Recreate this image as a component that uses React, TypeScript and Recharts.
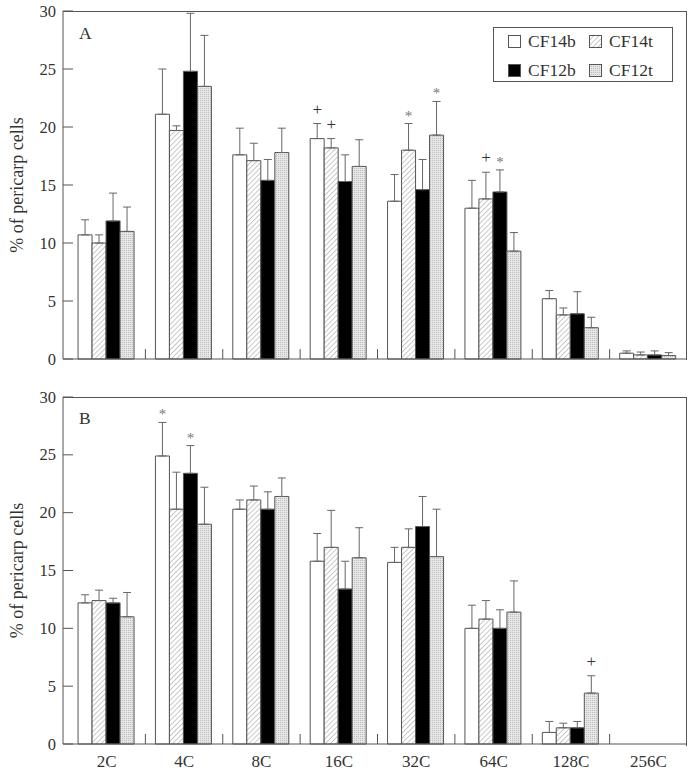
import { BarChart, Bar, XAxis, YAxis, ErrorBar, LabelList, Legend } from 'recharts'

// categories (DNA content classes) and series
const categories = ['2C', '4C', '8C', '16C', '32C', '64C', '128C', '256C']
const seriesNames = ['CF14b', 'CF14t', 'CF12b', 'CF12t']
const yTicks = [0, 5, 10, 15, 20, 25, 30]

// panel A: means and (upper) errors
const aCF14b = [10.7, 21.1, 17.6, 19.0, 13.6, 13.0, 5.2, 0.5]
const aCF14bErr = [1.3, 3.9, 2.3, 1.3, 2.3, 2.4, 0.7, 0.2]
const aCF14t = [10.0, 19.7, 17.1, 18.2, 18.0, 13.8, 3.8, 0.35]
const aCF14tErr = [0.7, 0.4, 1.5, 0.8, 2.3, 2.3, 0.6, 0.25]
const aCF12b = [11.9, 24.8, 15.4, 15.3, 14.6, 14.4, 3.9, 0.35]
const aCF12bErr = [2.4, 5.0, 1.8, 2.3, 2.6, 1.9, 1.9, 0.35]
const aCF12t = [11.0, 23.5, 17.8, 16.6, 19.3, 9.3, 2.7, 0.3]
const aCF12tErr = [2.1, 4.4, 2.1, 2.3, 2.9, 1.6, 0.9, 0.25]

// panel A: significance marks
const aCF14bMark = ['', '', '', '+', '', '', '', '']
const aCF14tMark = ['', '', '', '+', '*', '+', '', '']
const aCF12bMark = ['', '', '', '', '', '*', '', '']
const aCF12tMark = ['', '', '', '', '*', '', '', '']

// panel B
const bCF14b = [12.2, 24.9, 20.3, 15.8, 15.7, 10.0, 1.0, 0]
const bCF14bErr = [0.7, 2.9, 0.8, 2.4, 1.3, 2.0, 0.95, 0]
const bCF14t = [12.4, 20.3, 21.1, 17.0, 17.0, 10.8, 1.4, 0]
const bCF14tErr = [0.9, 3.2, 1.2, 3.2, 1.6, 1.6, 0.4, 0]
const bCF12b = [12.2, 23.4, 20.3, 13.4, 18.8, 10.0, 1.4, 0]
const bCF12bErr = [0.4, 2.4, 1.5, 2.4, 2.6, 1.6, 0.55, 0]
const bCF12t = [11.0, 19.0, 21.4, 16.1, 16.2, 11.4, 4.4, 0]
const bCF12tErr = [2.1, 3.2, 1.6, 2.6, 4.1, 2.7, 1.5, 0]

const bCF14bMark = ['', '*', '', '', '', '', '', '']
const bCF14tMark = ['', '', '', '', '', '', '', '']
const bCF12bMark = ['', '*', '', '', '', '', '', '']
const bCF12tMark = ['', '', '', '', '', '', '+', '']

const FONT = '"Liberation Serif", "DejaVu Serif", serif'
const AXIS = '#555'
const TEXT = '#333'

function buildRows(vals: number[][], errs: number[][], marks: string[][]) {
  return categories.map((cat, i) => {
    const row: any = { cat }
    seriesNames.forEach((s, k) => {
      const v = vals[k][i]
      row[s] = v > 0 ? v : null
      row[s + '_err'] = v > 0 ? [0, errs[k][i]] : null
      row[s + '_mark'] = marks[k][i]
    })
    return row
  })
}

const rowsA = buildRows(
  [aCF14b, aCF14t, aCF12b, aCF12t],
  [aCF14bErr, aCF14tErr, aCF12bErr, aCF12tErr],
  [aCF14bMark, aCF14tMark, aCF12bMark, aCF12tMark],
)
const rowsB = buildRows(
  [bCF14b, bCF14t, bCF12b, bCF12t],
  [bCF14bErr, bCF14tErr, bCF12bErr, bCF12tErr],
  [bCF14bMark, bCF14tMark, bCF12bMark, bCF12tMark],
)

function Patterns({ id }: { id: string }) {
  return (
    <defs>
      <pattern id={`hatch${id}`} width="3.6" height="3.6" patternUnits="userSpaceOnUse" patternTransform="rotate(45)">
        <rect width="3.6" height="3.6" fill="#fff" />
        <line x1="0" y1="0" x2="0" y2="3.6" stroke="#777" strokeWidth="0.8" />
      </pattern>
      <pattern id={`dots${id}`} width="2" height="2" patternUnits="userSpaceOnUse">
        <rect width="2" height="2" fill="#e6e6e6" />
        <rect width="1" height="1" fill="#bdbdbd" />
      </pattern>
    </defs>
  )
}

const fillFor = (s: string, id: string) =>
  s === 'CF14b' ? '#fff' : s === 'CF14t' ? `url(#hatch${id})` : s === 'CF12b' ? '#000' : `url(#dots${id})`

// category tick: label under the centre, short inward tick at the boundary
function CatTick(props: any) {
  const { x, y, payload, index, showLabel } = props
  const half = payload && payload.offset ? payload.offset : 38.7
  const last = index === categories.length - 1
  return (
    <g>
      {!last && <line x1={x + half} x2={x + half} y1={y} y2={y - 10} stroke={AXIS} />}
      {showLabel && (
        <text x={x} y={y} dy={23} textAnchor="middle" style={{ fontFamily: FONT }} fontSize={17} fill={TEXT}>
          {payload.value}
        </text>
      )}
    </g>
  )
}

function ValTick(props: any) {
  const { x, y, payload } = props
  return (
    <g>
      <line x1={x} x2={x + 10} y1={y} y2={y} stroke={AXIS} />
      <text x={x - 7} y={y} dy={5.5} textAnchor="end" style={{ fontFamily: FONT }} fontSize={16.5} fill={TEXT}>
        {payload.value}
      </text>
    </g>
  )
}

function YTitle(props: any) {
  const vb = props.viewBox || { x: 0, y: 0, height: 0 }
  const cx = 17
  const cy = vb.y + vb.height / 2
  return (
    <text x={cx} y={cy} transform={`rotate(-90 ${cx} ${cy})`} textAnchor="middle" dominantBaseline="central"
      style={{ fontFamily: FONT }} fontSize={18} fill={TEXT}>
      % of pericarp cells
    </text>
  )
}

function makeMark(rows: any[], s: string) {
  return (p: any) => {
    const { x, y, width, height, value, index } = p
    if (!value || rows[index] == null) return null
    const v = rows[index][s]
    const e = rows[index][s + '_err'] ? rows[index][s + '_err'][1] : 0
    const top = y - (height / v) * e
    const star = value === '*'
    return (
      <text x={x + width / 2} y={star ? top - 3 : top - 9} textAnchor="middle" style={{ fontFamily: FONT }}
        fontSize={star ? 15 : 17} fill={star ? '#777' : '#333'}>
        {value}
      </text>
    )
  }
}

function Swatch({ s }: { s: string }) {
  return (
    <svg width={13} height={13} style={{ display: 'block' }}>
      <Patterns id="L" />
      <rect x={0.5} y={0.5} width={12} height={12} fill={fillFor(s, 'L')} stroke={AXIS} />
    </svg>
  )
}

function LegendBox() {
  return (
    <div style={{
      border: `1px solid ${AXIS}`, background: '#fff', width: 180, height: 55, boxSizing: 'border-box',
      display: 'grid', gridTemplateColumns: '81px 80px', rowGap: 9, padding: '4px 0 0 14px',
      fontFamily: FONT, fontSize: 17.5, color: TEXT,
    }}>
      {seriesNames.map((s) => (
        <div key={s} style={{ display: 'flex', alignItems: 'center', gap: 7, height: 19 }}>
          <Swatch s={s} />
          <span>{s}</span>
        </div>
      ))}
    </div>
  )
}

function Panel({ rows, id, showLabels, legend, height, margin, xHeight }: any) {
  return (
    <BarChart width={688} height={height} data={rows} margin={margin} barCategoryGap="13%" barGap={0}>
      <Patterns id={id} />
      <XAxis dataKey="cat" height={xHeight} padding={{ left: 5, right: 0 }} axisLine={{ stroke: AXIS }}
        tickLine={false} tickSize={0} tickMargin={0} interval={0}
        tick={(p: any) => <CatTick {...p} showLabel={showLabels} />} />
      <YAxis domain={[0, 30]} ticks={yTicks} width={63} axisLine={{ stroke: AXIS }} tickLine={false}
        tickSize={0} tickMargin={0} tick={<ValTick />} label={<YTitle />} interval={0} />
      {legend && (
        <Legend layout="horizontal" verticalAlign="middle" align="center" content={<LegendBox />}
          wrapperStyle={{ position: 'absolute', left: 493, top: 27, width: 180, height: 55 }} />
      )}
      {seriesNames.map((s) => (
        <Bar key={s} dataKey={s} name={s} fill={fillFor(s, id)} stroke={AXIS} strokeWidth={1}
          isAnimationActive={false}>
          <ErrorBar dataKey={s + '_err'} width={4} stroke="#666" strokeWidth={1} direction="y" />
          <LabelList dataKey={s + '_mark'} content={makeMark(rows, s)} />
        </Bar>
      ))}
    </BarChart>
  )
}

const panelLetter = (top: number): any => ({
  position: 'absolute', left: 79, top, fontFamily: FONT, fontSize: 17.5, color: TEXT, lineHeight: '20px',
})

// top and right edges of each panel's box
const frameEdge = (top: number): any => ({
  position: 'absolute', left: 63, top, width: 624, height: 349, boxSizing: 'border-box',
  borderTop: `1px solid ${AXIS}`, borderRight: `1px solid ${AXIS}`, pointerEvents: 'none',
})

export default function App() {
  return (
    <div style={{ position: 'absolute', left: 0, top: 0, width: 688, height: 773, background: '#fff', overflow: 'hidden' }}>
      <div style={{ position: 'absolute', left: 0, top: 0 }}>
        <Panel rows={rowsA} id="A" showLabels={false} legend height={372}
          margin={{ top: 11, right: 1, bottom: 12, left: 0 }} xHeight={1} />
      </div>
      <div style={{ position: 'absolute', left: 0, top: 386 }}>
        <Panel rows={rowsB} id="B" showLabels legend={false} height={387}
          margin={{ top: 11, right: 1, bottom: 0, left: 0 }} xHeight={29} />
      </div>
      <div style={frameEdge(10.5)} />
      <div style={frameEdge(396.5)} />
      <div style={panelLetter(23)}>A</div>
      <div style={panelLetter(408)}>B</div>
    </div>
  )
}
